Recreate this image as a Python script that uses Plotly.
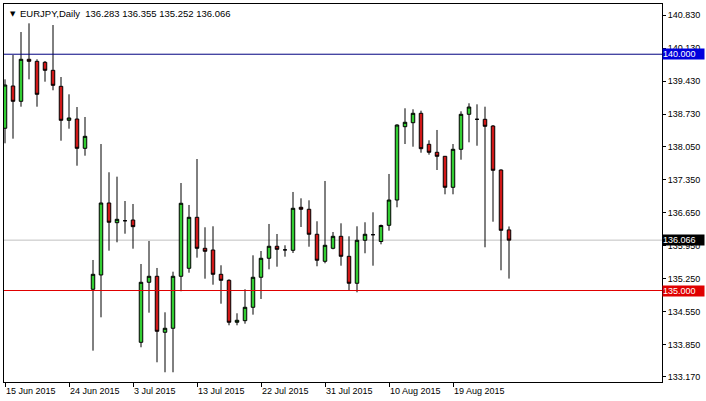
import plotly.graph_objects as go

symbol = "EURJPY"
timeframe = "Daily"

dates = [
    "2015-06-15", "2015-06-16", "2015-06-17", "2015-06-18", "2015-06-19", "2015-06-21",
    "2015-06-22", "2015-06-23", "2015-06-24", "2015-06-25", "2015-06-26", "2015-06-28",
    "2015-06-29", "2015-06-30", "2015-07-01", "2015-07-02", "2015-07-03", "2015-07-05",
    "2015-07-06", "2015-07-07", "2015-07-08", "2015-07-09", "2015-07-10", "2015-07-12",
    "2015-07-13", "2015-07-14", "2015-07-15", "2015-07-16", "2015-07-17", "2015-07-19",
    "2015-07-20", "2015-07-21", "2015-07-22", "2015-07-23", "2015-07-24", "2015-07-26",
    "2015-07-27", "2015-07-28", "2015-07-29", "2015-07-30", "2015-07-31", "2015-08-02",
    "2015-08-03", "2015-08-04", "2015-08-05", "2015-08-06", "2015-08-07", "2015-08-09",
    "2015-08-10", "2015-08-11", "2015-08-12", "2015-08-13", "2015-08-14", "2015-08-16",
    "2015-08-17", "2015-08-18", "2015-08-19", "2015-08-20", "2015-08-21", "2015-08-23",
    "2015-08-24", "2015-08-25", "2015-08-26", "2015-08-27",
]

open_ = [
    138.433, 139.328, 139.004, 139.893, 139.850, 139.829, 139.660, 139.321, 138.602, 138.629,
    138.009, 135.026, 135.329, 136.852, 136.435, 136.477, 136.492, 133.904, 135.174, 135.301,
    134.116, 134.201, 135.301, 135.470, 136.549, 135.893, 135.857, 135.343, 135.216, 134.328,
    134.362, 134.645, 135.280, 135.682, 135.936, 135.860, 135.851, 136.761, 136.719, 136.190,
    135.618, 135.893, 136.147, 135.724, 135.153, 136.063, 136.181, 136.037, 136.380, 136.915,
    138.467, 138.551, 138.750, 138.094, 137.925, 137.840, 137.184, 137.988, 138.729, 138.623,
    138.623, 138.481, 137.550, 136.283,
]
high = [
    139.469, 139.984, 140.470, 140.654, 139.893, 139.857, 140.618, 139.518, 139.152, 138.883,
    138.672, 135.646, 138.100, 137.502, 137.409, 136.894, 136.831, 135.561, 136.048, 135.477,
    134.539, 135.398, 137.275, 136.810, 137.783, 136.338, 136.359, 135.534, 135.237, 134.518,
    135.026, 135.745, 135.836, 136.408, 136.196, 135.957, 137.085, 136.951, 136.909, 136.465,
    137.318, 136.238, 136.422, 136.147, 136.359, 136.444, 136.655, 136.395, 137.466, 138.517,
    138.856, 138.835, 138.805, 138.179, 138.397, 137.846, 138.100, 138.792, 138.962, 138.940,
    138.890, 138.502, 137.565, 136.355,
]
low = [
    138.115, 138.213, 138.890, 139.469, 138.890, 139.419, 139.237, 138.170, 138.424, 137.641,
    137.853, 133.727, 134.433, 135.843, 136.020, 136.202, 135.885, 133.799, 134.531, 133.481,
    133.270, 133.270, 134.984, 135.377, 135.695, 135.250, 135.123, 134.721, 134.264, 134.264,
    134.298, 134.489, 134.821, 135.449, 135.504, 135.716, 135.794, 136.344, 135.927, 135.513,
    135.576, 135.872, 135.525, 135.005, 134.962, 135.788, 135.525, 135.978, 136.266, 136.761,
    138.100, 138.043, 137.916, 137.874, 137.550, 137.036, 137.036, 137.768, 138.136, 138.064,
    135.915, 136.456, 135.428, 135.252,
]
close = [
    139.349, 139.004, 139.893, 139.850, 139.152, 139.660, 139.342, 138.602, 138.651, 138.009,
    138.263, 135.343, 136.852, 136.444, 136.507, 136.477, 136.351, 135.174, 135.301, 134.137,
    134.201, 135.301, 136.846, 136.549, 135.893, 135.830, 135.343, 135.216, 134.328, 134.370,
    134.645, 135.280, 135.682, 135.936, 135.872, 135.860, 136.740, 136.719, 136.190, 135.640,
    135.957, 136.147, 135.724, 135.153, 136.063, 136.190, 136.181, 136.376, 136.915, 138.502,
    138.560, 138.750, 138.001, 137.925, 137.840, 137.184, 137.988, 138.729, 138.883, 138.623,
    138.475, 137.544, 136.274, 136.066,
]

date_tick_vals = ["2015-06-15", "2015-06-24", "2015-07-03", "2015-07-13",
                  "2015-07-22", "2015-07-31", "2015-08-10", "2015-08-19"]
date_tick_text = ["15 Jun 2015", "24 Jun 2015", "3 Jul 2015", "13 Jul 2015",
                  "22 Jul 2015", "31 Jul 2015", "10 Aug 2015", "19 Aug 2015"]

price_ticks = [140.830, 140.130, 139.430, 138.730, 138.050, 137.350,
               136.650, 135.950, 135.250, 134.550, 133.850, 133.170]

level_high = 140.000
level_low = 135.000
bid_level = close[-1]

FONT = "Liberation Sans, Arial, sans-serif"

fig = go.Figure()
fig.add_trace(go.Candlestick(
    x=dates, open=open_, high=high, low=low, close=close,
    increasing=dict(fillcolor="#32cd32", line=dict(color="#000000", width=1)),
    decreasing=dict(fillcolor="#d01818", line=dict(color="#000000", width=1)),
    whiskerwidth=0, hoverinfo="skip", showlegend=False,
))

n_vis = 82.25
fig.update_layout(
    width=706, height=401,
    margin=dict(l=4, r=44, t=4, b=19),
    paper_bgcolor="white", plot_bgcolor="white",
    boxgap=0.38,
    font=dict(family=FONT, size=9, color="black"),
    xaxis=dict(
        type="category", range=[-0.125, -0.125 + n_vis],
        rangeslider=dict(visible=False),
        tickmode="array", tickvals=date_tick_vals, ticktext=date_tick_text,
        ticks="outside", ticklen=4, tickcolor="black",
        ticklabelposition="outside right",
        showgrid=False, zeroline=False, automargin=False,
        showline=True, mirror=True, linecolor="black", linewidth=1,
        tickfont=dict(family=FONT, size=9, color="black"),
    ),
    yaxis=dict(
        side="right", range=[133.064, 141.063],
        tickmode="array", tickvals=price_ticks,
        ticktext=[f"{v:.3f}" for v in price_ticks],
        ticks="outside", ticklen=3, tickcolor="black",
        showgrid=False, zeroline=False, automargin=False,
        showline=True, mirror=True, linecolor="black", linewidth=1,
        tickfont=dict(family=FONT, size=9, color="black"),
    ),
    shapes=[
        dict(type="line", xref="paper", x0=0, x1=1, yref="y", y0=level_high, y1=level_high,
             line=dict(color="#000080", width=1), layer="above"),
        dict(type="line", xref="paper", x0=0, x1=1, yref="y", y0=level_low, y1=level_low,
             line=dict(color="#e00000", width=1), layer="above"),
        dict(type="line", xref="paper", x0=0, x1=1, yref="y", y0=bid_level, y1=bid_level,
             line=dict(color="#c0c0c0", width=1), layer="below"),
    ],
)

def level_label(y, text, bg):
    fig.add_annotation(
        xref="paper", x=1, yref="y", y=y, xanchor="left", yanchor="middle",
        text=text, showarrow=False, bgcolor=bg, borderpad=0, xshift=0,
        width=41, height=10, align="left",
        font=dict(family=FONT, size=9, color="white"),
    )

level_label(level_high, f"{level_high:.3f}", "#0000dd")
level_label(bid_level, f"{bid_level:.3f}", "#000000")
level_label(level_low, f"{level_low:.3f}", "#e00000")

fig.add_annotation(
    xref="paper", x=0, yref="paper", y=1, xanchor="left", yanchor="top",
    xshift=4, yshift=-4, text="▼", showarrow=False,
    font=dict(family="DejaVu Sans", size=7, color="black"),
)
fig.add_annotation(
    xref="paper", x=0, yref="paper", y=1, xanchor="left", yanchor="top",
    xshift=15, yshift=-3, borderpad=0,
    text=f"{symbol},{timeframe}  {open_[-1]:.3f} {high[-1]:.3f} {low[-1]:.3f} {close[-1]:.3f}",
    showarrow=False, font=dict(family=FONT, size=9.5, color="black"),
)

fig.write_html(
    "out.html",
    config={"displayModeBar": False},
    post_script="document.body.style.margin='0px';document.body.style.padding='0px';",
)
